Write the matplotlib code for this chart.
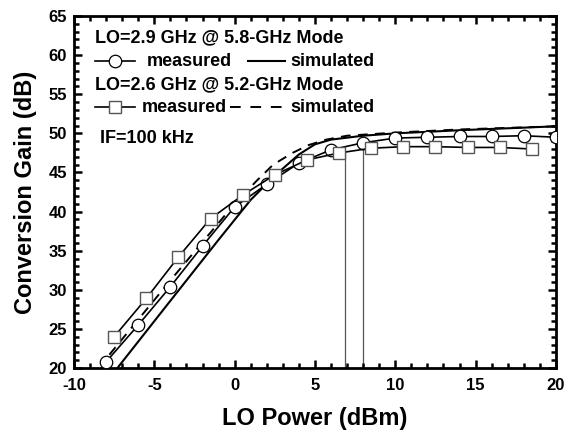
import numpy as np
import matplotlib.pyplot as plt
from matplotlib.ticker import MultipleLocator

plt.rcParams['font.family'] = ['Liberation Sans', 'DejaVu Sans']
plt.rcParams['font.weight'] = 'bold'
plt.rcParams['axes.unicode_minus'] = False

# measured, LO=2.9 GHz @ 5.8-GHz mode (circles)
p_meas58 = [-8, -6, -4, -2, 0, 2, 4, 6, 8, 10, 12, 14, 16, 18, 20]
g_meas58 = [20.8, 25.5, 30.4, 35.6, 40.6, 43.5, 46.2, 47.9, 48.8, 49.4, 49.5, 49.6, 49.6, 49.7, 49.5]

# measured, LO=2.6 GHz @ 5.2-GHz mode (squares)
p_meas52 = [-7.5, -5.5, -3.5, -1.5, 0.5, 2.5, 4.5, 6.5, 8.5, 10.5, 12.5, 14.5, 16.5, 18.5]
g_meas52 = [24.0, 28.9, 34.2, 39.1, 42.1, 44.7, 46.6, 47.5, 48.1, 48.3, 48.3, 48.2, 48.2, 48.0]

# simulated (solid) 5.8-GHz mode
p_sim58 = [-7.3, -4, -1, 1, 2.5, 4, 5, 6, 8, 10, 14, 20]
g_sim58 = [20.0, 28.6, 36.4, 41.5, 44.6, 47.3, 48.6, 49.2, 49.7, 50.0, 50.4, 50.9]

# simulated (dashed) 5.2-GHz mode
p_sim52 = [-7.8, -6, -4, -2, 0, 1.4, 2.4, 3.6, 4.6, 5.7, 7, 10, 14, 20]
g_sim52 = [21.7, 26.2, 31.2, 36.1, 41.0, 44.0, 46.0, 47.5, 48.5, 49.2, 49.7, 50.1, 50.5, 50.9]

# thin vertical guide lines
vx = [6.85, 8.0]
vtop = [47.7, 48.8]

fig = plt.figure(figsize=(5.71, 4.33), dpi=100)
ax = fig.add_axes([0.1296, 0.150, 0.844, 0.813])

ax.vlines(vx, 20, vtop, colors='#555555', linewidth=0.9, zorder=1)

ax.plot(p_sim58, g_sim58, color='black', linewidth=1.5, zorder=2)
ax.plot(p_sim52, g_sim52, color='black', linewidth=1.4, linestyle=(0, (5, 3.8)), zorder=2)
ax.plot(p_meas58, g_meas58, color='black', linewidth=1.2, marker='o', markersize=9,
        markerfacecolor='white', markeredgecolor='black', markeredgewidth=0.9, zorder=3)
ax.plot(p_meas52, g_meas52, color='black', linewidth=1.2, marker='s', markersize=8.5,
        markerfacecolor='white', markeredgecolor='#555555', markeredgewidth=1.0, zorder=3)

ax.set_xlim(-10, 20)
ax.set_ylim(20, 65)
ax.xaxis.set_major_locator(MultipleLocator(5))
ax.xaxis.set_minor_locator(MultipleLocator(1))
ax.yaxis.set_major_locator(MultipleLocator(5))
ax.yaxis.set_minor_locator(MultipleLocator(1))
ax.tick_params(which='both', direction='in', top=True, right=True, width=1.8, labelsize=12)
ax.tick_params(which='major', length=6)
ax.tick_params(which='minor', length=3.5)
ax.tick_params(axis='x', pad=7)
ax.tick_params(axis='y', pad=5)
for s in ax.spines.values():
    s.set_linewidth(2)
for lab in ax.get_xticklabels() + ax.get_yticklabels():
    lab.set_fontweight('bold')

ax.set_xlabel('LO Power (dBm)', fontsize=17, fontweight='bold', labelpad=10)
ax.set_ylabel('Conversion Gain (dB)', fontsize=17, fontweight='bold', labelpad=8)

# legend block drawn by hand
tr = ax.transAxes
fs = 13
ax.text(0.044, 0.9375, 'LO=2.9 GHz @ 5.8-GHz Mode', transform=tr, fontsize=fs,
        fontweight='bold', va='center')
ax.plot([0.044, 0.127], [0.872, 0.872], transform=tr, color='black', linewidth=1.2)
ax.plot([0.085], [0.872], transform=tr, marker='o', markersize=9, markerfacecolor='white',
        markeredgecolor='black', markeredgewidth=0.9)
ax.text(0.151, 0.872, 'measured', transform=tr, fontsize=fs, fontweight='bold', va='center')
ax.plot([0.361, 0.438], [0.872, 0.872], transform=tr, color='black', linewidth=1.5)
ax.text(0.448, 0.872, 'simulated', transform=tr, fontsize=fs, fontweight='bold', va='center')

ax.text(0.044, 0.804, 'LO=2.6 GHz @ 5.2-GHz Mode', transform=tr, fontsize=fs,
        fontweight='bold', va='center')
ax.plot([0.044, 0.127], [0.741, 0.741], transform=tr, color='black', linewidth=1.2)
ax.plot([0.085], [0.741], transform=tr, marker='s', markersize=8.5, markerfacecolor='white',
        markeredgecolor='#555555', markeredgewidth=1.0)
ax.text(0.141, 0.741, 'measured', transform=tr, fontsize=fs, fontweight='bold', va='center')
ax.plot([0.324, 0.436], [0.741, 0.741], transform=tr, color='black', linewidth=1.4,
        linestyle=(0, (5.5, 5.0)))
ax.text(0.448, 0.741, 'simulated', transform=tr, fontsize=fs, fontweight='bold', va='center')

ax.text(0.054, 0.653, 'IF=100 kHz', transform=tr, fontsize=fs, fontweight='bold', va='center')

fig.savefig('out.png', dpi=100)
